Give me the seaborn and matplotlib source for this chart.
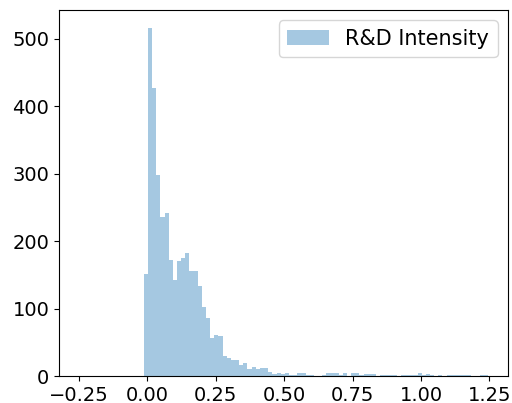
import numpy as np
import pandas as pd
import seaborn as sns
from matplotlib import pyplot as plt
from matplotlib.patches import Patch

# histogram: 83 equal bins from bin_lo to bin_hi
bin_lo, bin_hi = -0.013, 1.245
counts = [151, 517, 427, 298, 236, 242, 172, 142, 170, 175,
          182, 156, 156, 133, 103, 86, 56, 61, 59, 30,
          26, 23, 24, 17, 19, 10, 14, 11, 12, 12,
          6, 3, 4, 3, 5, 2, 2, 4, 4, 2,
          2, 0, 0, 1, 4, 4, 4, 1, 4, 0,
          4, 4, 1, 3, 3, 3, 0, 1, 2, 2,
          2, 0, 1, 2, 2, 1, 5, 1, 3, 1,
          0, 2, 0, 1, 1, 1, 2, 1, 1, 0,
          0, 1, 2]
label = "R&D Intensity"

n_bins = len(counts)
edges = np.linspace(bin_lo, bin_hi, n_bins + 1)
df = pd.DataFrame({"value": (edges[:-1] + edges[1:]) / 2, "count": counts})

fig = plt.figure(figsize=(5.12, 4.03), dpi=100)
ax = fig.add_axes([59 / 512, 1 - 376 / 403, 449 / 512, 366 / 403])

sns.histplot(data=df, x="value", weights="count", bins=n_bins,
             binrange=(bin_lo, bin_hi), color="C0", alpha=0.4,
             linewidth=0, ax=ax)

ax.set_xlim(-0.323, 1.318)
ax.set_ylim(0, 543)
ax.set_xticks([-0.25, 0.0, 0.25, 0.5, 0.75, 1.0, 1.25])
ax.set_yticks([0, 100, 200, 300, 400, 500])
ax.tick_params(labelsize=14)
ax.set_xlabel("")
ax.set_ylabel("")

handle = Patch(facecolor="C0", alpha=0.4, edgecolor="none")
ax.legend([handle], [label], loc="upper right", fontsize=15)

fig.savefig("out.png")
